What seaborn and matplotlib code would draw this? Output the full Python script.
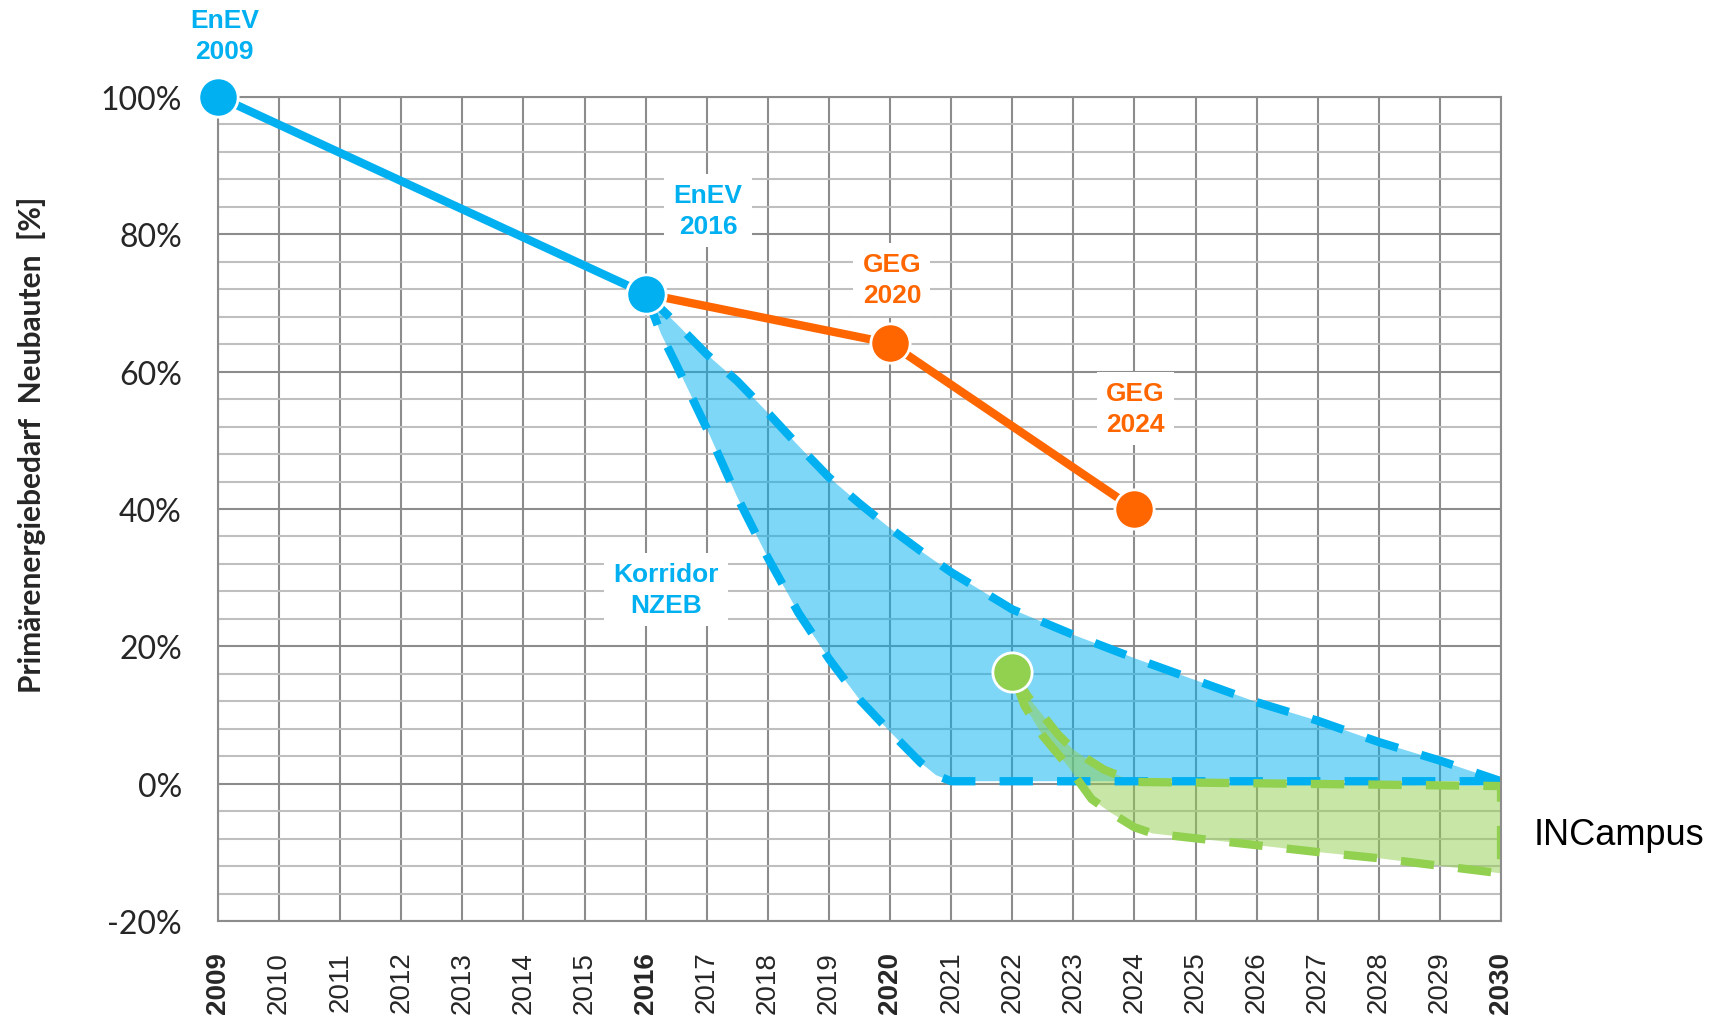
import numpy as np
import pandas as pd
import matplotlib
matplotlib.use("Agg")
import matplotlib.pyplot as plt
import seaborn as sns

# ---------------- data ----------------
years = list(range(2009, 2031))
bold_years = [2009, 2016, 2020, 2030]
y_ticks = [-20, 0, 20, 40, 60, 80, 100]
y_tick_labels = ["-20%", "0%", "20%", "40%", "60%", "80%", "100%"]

enev_years = [2009, 2016]
enev_vals = [100.0, 71.3]

geg_years = [2016, 2020, 2024]
geg_vals = [71.3, 64.1, 40.0]

incampus_year = [2022]
incampus_val = [16.3]

# Korridor NZEB (upper / lower boundary)
korr_up_x = [2016, 2016.5, 2017, 2017.5, 2018, 2018.5, 2019, 2019.5, 2020, 2020.5,
             2021, 2022, 2023, 2024, 2025, 2026, 2027, 2028, 2029, 2030]
korr_up_y = [71.3, 67.0, 62.5, 58.6, 54.0, 49.2, 44.6, 40.8, 37.2, 33.9,
             30.8, 25.4, 21.7, 18.3, 15.1, 11.9, 9.2, 6.1, 3.4, 0.4]
korr_lo_x = [2016, 2016.25, 2016.5, 2017, 2017.5, 2018, 2018.5, 2019, 2019.5,
             2020, 2020.5, 2020.75, 2021, 2030]
korr_lo_y = [71.3, 65.5, 61.0, 51.7, 41.7, 32.9, 24.9, 18.2, 12.3,
             7.6, 3.1, 1.3, 0.4, 0.4]

# INCampus corridor (upper / lower boundary)
inc_up_x = [2022, 2022.25, 2022.5, 2022.75, 2023, 2023.25, 2023.5, 2024, 2030]
inc_up_y = [16.3, 12.8, 10.0, 7.2, 5.0, 3.5, 2.1, 0.3, -0.3]
inc_lo_x = [2022, 2022.2, 2022.5, 2022.9, 2023.3, 2023.6, 2024, 2024.3, 2025,
            2026, 2027, 2028, 2029, 2030]
inc_lo_y = [16.3, 11.4, 7.0, 2.7, -2.2, -4.1, -6.3, -7.2, -7.9,
            -8.9, -9.9, -10.8, -11.9, -13.0]

labels = ["EnEV\n2009", "EnEV\n2016", "GEG\n2020", "GEG\n2024", "Korridor\nNZEB"]
label_x = [2009.11, 2017.02, 2020.03, 2024.01, 2016.33]
label_y = [108.9, 83.4, 73.4, 54.6, 28.3]
label_col = ["blue", "blue", "orange", "orange", "blue"]
label_box = [False, True, True, True, True]

y_label = "Primärenergiebedarf  Neubauten  [%]"

# ---------------- style ----------------
BLUE = "#00B0F0"
ORANGE = "#FF6600"
GREEN = "#92D050"
GRID_DARK = "#8c8c8c"
GRID_LIGHT = "#bfbfbf"
cols = {"blue": BLUE, "orange": ORANGE}

sns.set_style("white")
plt.rcParams["font.family"] = ["Liberation Sans", "DejaVu Sans"]

fig = plt.figure(figsize=(17.18, 10.20), dpi=100)
ax = fig.add_axes([0.1269, 0.0956, 0.7468, 0.8088])

ax.set_xlim(2009, 2030)
ax.set_ylim(-20, 100)

# grid
ax.set_xticks(years)
ax.set_yticks(y_ticks)
ax.set_yticks(np.arange(-20, 101, 4), minor=True)
ax.set_axisbelow(True)
ax.grid(which="minor", axis="y", color=GRID_LIGHT, lw=1.5, zorder=0)
ax.grid(which="major", axis="y", color=GRID_DARK, lw=1.5, zorder=0.1)
ax.grid(which="major", axis="x", color=GRID_DARK, lw=1.5, zorder=0.1)
for s in ax.spines.values():
    s.set_color(GRID_DARK)
    s.set_linewidth(1.5)

# zero line
ax.axhline(0, color="#ff0000", lw=1.3, zorder=0.5)

# fills
ax.fill(np.concatenate([korr_up_x, korr_lo_x[::-1]]),
        np.concatenate([korr_up_y, korr_lo_y[::-1]]),
        color=BLUE, alpha=0.5, lw=0, zorder=1)
inc_path_x = np.concatenate([inc_up_x, inc_lo_x[::-1]])
inc_path_y = np.concatenate([inc_up_y, inc_lo_y[::-1]])
ax.fill(inc_path_x, inc_path_y, color=GREEN, alpha=0.5, lw=0, zorder=1.2)

dash = (0, (4.0, 2.9))
sns.lineplot(x=korr_up_x, y=korr_up_y, ax=ax, color=BLUE, lw=6,
             linestyle=dash, estimator=None, sort=False, zorder=2)
sns.lineplot(x=korr_lo_x, y=korr_lo_y, ax=ax, color=BLUE, lw=6,
             linestyle=dash, estimator=None, sort=False, zorder=2)
sns.lineplot(x=inc_path_x, y=inc_path_y, ax=ax, color=GREEN, lw=6,
             linestyle=dash, estimator=None, sort=False, zorder=2.2)
for ln in ax.lines[-3:]:
    ln.set_solid_joinstyle("round")
    ln.set_dash_joinstyle("round")

# solid lines
sns.lineplot(x=geg_years, y=geg_vals, ax=ax, color=ORANGE, lw=6,
             estimator=None, sort=False, zorder=3)
sns.lineplot(x=enev_years, y=enev_vals, ax=ax, color=BLUE, lw=6,
             estimator=None, sort=False, zorder=3)

# markers
msize = 800
sns.scatterplot(x=geg_years[1:], y=geg_vals[1:], ax=ax, color=ORANGE, s=msize,
                edgecolor="white", linewidth=2, zorder=4, clip_on=False)
sns.scatterplot(x=enev_years, y=enev_vals, ax=ax, color=BLUE, s=msize,
                edgecolor="white", linewidth=2, zorder=4.1, clip_on=False)
sns.scatterplot(x=incampus_year, y=incampus_val, ax=ax, color=GREEN, s=msize,
                edgecolor="white", linewidth=2, zorder=4.1, clip_on=False)

# annotations
for t, x, y, c, b in zip(labels, label_x, label_y, label_col, label_box):
    kw = {}
    if b:
        kw["bbox"] = dict(boxstyle="square,pad=0.35", facecolor="white", edgecolor="none")
    ax.text(x, y, t, color=cols[c], fontsize=19, fontweight="bold",
            ha="center", va="center", linespacing=1.38, zorder=6, **kw)

ax.text(2030.54, -7.3, "INCampus", fontsize=26, color="black",
        ha="left", va="center", zorder=6)

# ticks
ax.tick_params(axis="both", which="both", length=0)
ax.tick_params(axis="y", pad=26)
ax.tick_params(axis="x", pad=21)
ax.set_yticklabels(y_tick_labels, fontfamily="Lato", fontsize=23)
ax.set_xticklabels([str(y) for y in years], rotation=90, fontsize=20)
for lab in ax.get_xticklabels():
    if int(lab.get_text()) in bold_years:
        lab.set_fontweight("bold")

ax.set_xlabel("")
ax.set_ylabel(y_label, fontfamily="Lato", fontweight="bold", fontsize=21.5)
ax.yaxis.set_label_coords(-0.134, 0.579)

fig.savefig("out.png", dpi=100)
